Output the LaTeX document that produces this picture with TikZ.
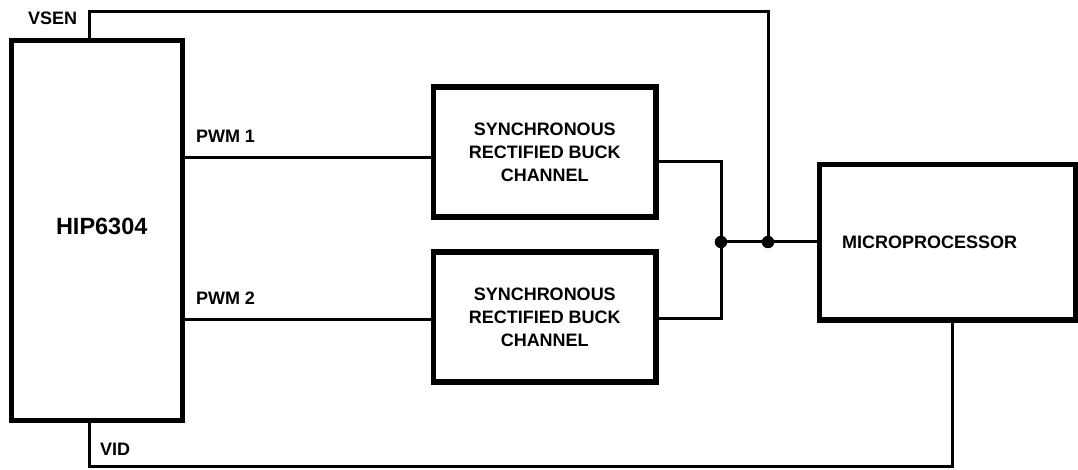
\documentclass[tikz,border=0pt]{standalone}
\usepackage{fontspec}
\setmainfont{Liberation Sans}
\begin{document}
\begin{tikzpicture}[x=1pt,y=-1pt,
  blk/.style={draw, line width=5.5pt, inner sep=0pt, outer sep=0pt, fill=none},
  wire/.style={line width=3pt, line cap=rect},
  lbl/.style={font=\bfseries\fontsize{18}{23}\selectfont, inner sep=0pt, outer sep=0pt},
  big/.style={font=\bfseries\fontsize{23.5}{28}\selectfont, inner sep=0pt, outer sep=0pt},
  jdot/.style={circle, fill, inner sep=0pt, minimum size=12.5pt}]
\useasboundingbox (0,0) rectangle (1078,470);

% blocks
\node[blk, minimum width=171pt, minimum height=380pt] (hip) at (97,230.5) {};
\node[blk, minimum width=222.5pt, minimum height=130pt, align=center, lbl] (b1) at (544.75,152)
  {SYNCHRONOUS\\RECTIFIED BUCK\\CHANNEL};
\node[blk, minimum width=222.5pt, minimum height=130pt, align=center, lbl] (b2) at (544.75,317)
  {SYNCHRONOUS\\RECTIFIED BUCK\\CHANNEL};
\node[blk, minimum width=256pt, minimum height=155.5pt] (mp) at (947.5,242.25) {};

% texts
\node[big, anchor=base west] (thip) at (56,235) {HIP6304};
\node[lbl, anchor=base west] (tmp) at (842,249) {MICROPROCESSOR};
\node[lbl, anchor=base west] (tvsen) at (28,25) {VSEN};
\node[lbl, anchor=base west] (tvid) at (100,455) {VID};
\node[lbl, anchor=base west] (tp1) at (196,143) {PWM 1};
\node[lbl, anchor=base west] (tp2) at (196,304) {PWM 2};

% helper coordinates
\coordinate (y1) at (0,158);
\coordinate (y2) at (0,319);
\coordinate (o1) at (0,162);
\coordinate (o2) at (0,318);
\coordinate (j1) at (721,242);
\coordinate (j2) at (768,242);
\coordinate (vs) at (89.5,11.5);
\coordinate (vd) at (89.5,466.5);
\coordinate (mx) at (952.5,0);

% connectors
\draw[wire] (hip.east |- y1) -- (b1.west |- y1);
\draw[wire] (hip.east |- y2) -- (b2.west |- y2);
\draw[wire] (b1.east |- o1) -| (j1) |- (b2.east |- o2);
\draw[wire] (j1) -- (j2) -- (mp.west |- j2);
\draw[wire] (hip.north -| vs) -- (vs) -| (j2);
\draw[wire] (hip.south -| vd) -- (vd) -| (mp.south -| mx);

\node[jdot] (d1) at (j1) {};
\node[jdot] (d2) at (j2) {};
\end{tikzpicture}
\end{document}
